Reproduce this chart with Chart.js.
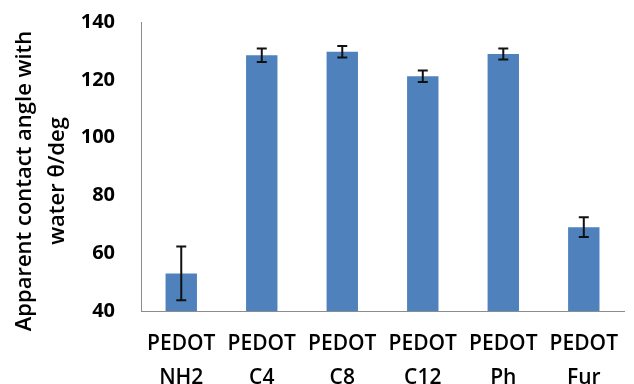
<!DOCTYPE html>
<html><head><meta charset="utf-8">
<script src="https://cdn.jsdelivr.net/npm/chart.js@4/dist/chart.umd.min.js"></script>
<style>html,body{margin:0;padding:0;background:#fff;}canvas{display:block;}</style>
</head><body>
<canvas id="c" width="634" height="384"></canvas>
<script>
const categories = [['PEDOT','NH2'],['PEDOT','C4'],['PEDOT','C8'],['PEDOT','C12'],['PEDOT','Ph'],['PEDOT','Fur']];
const angles = [53.0, 128.5, 129.7, 121.2, 128.9, 69.0];
const errors = [9.3, 2.3, 2.0, 2.0, 1.9, 3.4];
const yTicks = [40, 60, 80, 100, 120, 140];
const yTitle = ['Apparent contact angle with', 'water θ/deg'];

const errorBars = {
  id: 'errorBars',
  afterDatasetsDraw(chart) {
    const ctx = chart.ctx, ys = chart.scales.y;
    const meta = chart.getDatasetMeta(0);
    ctx.save();
    ctx.strokeStyle = '#111';
    ctx.lineWidth = 2;
    meta.data.forEach((el, i) => {
      const x = el.x;
      const top = ys.getPixelForValue(angles[i] + errors[i]);
      const bot = ys.getPixelForValue(angles[i] - errors[i]);
      ctx.beginPath();
      ctx.moveTo(x, top); ctx.lineTo(x, bot);
      ctx.moveTo(x - 5, top); ctx.lineTo(x + 5, top);
      ctx.moveTo(x - 5, bot); ctx.lineTo(x + 5, bot);
      ctx.stroke();
    });
    ctx.restore();
  }
};

const yTitlePlugin = {
  id: 'yTitlePlugin',
  afterDraw(chart) {
    const ctx = chart.ctx;
    ctx.save();
    ctx.fillStyle = '#000';
    ctx.font = '600 22px "Open Sans"';
    ctx.textAlign = 'center';
    ctx.textBaseline = 'middle';
    const xs = [25, 58];
    yTitle.forEach((line, i) => {
      ctx.save();
      ctx.translate(xs[i], 181);
      ctx.rotate(-Math.PI / 2);
      ctx.fillText(line, 0, 0);
      ctx.restore();
    });
    ctx.restore();
  }
};

new Chart(document.getElementById('c'), {
  type: 'bar',
  data: {
    labels: categories,
    datasets: [{
      data: angles,
      backgroundColor: '#4F81BD',
      borderWidth: 0,
      barPercentage: 0.39,
      categoryPercentage: 1.0
    }]
  },
  options: {
    responsive: false,
    animation: false,
    devicePixelRatio: 1,
    layout: { padding: { top: 22, right: 0, left: 0, bottom: 0 } },
    plugins: { legend: { display: false }, tooltip: { enabled: false } },
    scales: {
      x: {
        grid: { display: false, drawTicks: false },
        border: { display: true, color: '#8c8c8c', width: 1 },
        ticks: { color: '#000', font: { family: 'Open Sans', size: 21, weight: 600, lineHeight: 1.62 }, padding: 16, maxRotation: 0, autoSkip: false },
        afterFit(s) { s.height = 384 - 311; s.paddingTop = 0; s.paddingBottom = 0; }
      },
      y: {
        min: 40, max: 140,
        afterBuildTicks(s) { s.ticks = yTicks.map(v => ({ value: v })); },
        grid: { display: false, drawOnChartArea: false, drawTicks: true, tickLength: 8, color: '#8c8c8c' },
        border: { display: true, color: '#8c8c8c', width: 1 },
        ticks: { color: '#000', font: { family: 'Open Sans', size: 20, weight: 'bold' }, padding: 18 },
        afterFit(s) { s.width = 141; s.paddingTop = 0; s.paddingBottom = 0; }
      }
    }
  },
  plugins: [errorBars, yTitlePlugin]
});
</script>
</body></html>
